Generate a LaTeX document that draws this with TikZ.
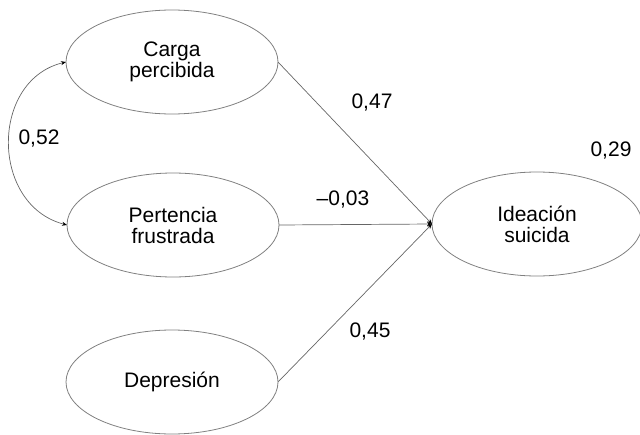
\documentclass[tikz,border=0pt]{standalone}
\usepackage{fontspec}
\setmainfont{Liberation Sans}
\usetikzlibrary{shapes.geometric,arrows.meta}

\begin{document}
\begin{tikzpicture}[x=1pt,y=-1pt,
  every node/.style={font=\fontsize{21}{21}\selectfont, outer sep=0pt},
  latent/.style={ellipse, draw=black!50, line width=0.8pt, minimum width=212pt, minimum height=104pt, inner sep=0pt, align=center},
  path/.style={draw=black!60, line width=0.7pt, -{Stealth[length=5pt,width=4pt,black]}}]
\useasboundingbox (0,0) rectangle (640,434);

\node[latent] (carga) at (172,62) {Carga\\percibida};
\node[latent] (pertenencia) at (173,225) {Pertencia\\frustrada};
\node[latent] (depresion) at (172,382) {Depresi\'on};
\node[latent, minimum width=210pt] (ideacion) at (537,224) {Ideaci\'on\\suicida};

\node (b1) at (372,103) {0,47};
\node (b2) at (343,200) {\textendash0,03};
\node (b3) at (370,332) {0,45};
\node (r2) at (611,151) {0,29};
\node (cov) at (39,139) {0,52};

\draw[path] (carga.east) -- (ideacion.west);
\draw[path] (pertenencia.east) -- (ideacion.west);
\draw[path] (depresion.east) -- (ideacion.west);
\draw[draw=black!60, line width=0.7pt, {Stealth[length=5pt,width=4pt,black]}-{Stealth[length=5pt,width=4pt,black]}]
  (carga.west) .. controls (-10,80) and (-10,205) .. (pertenencia.west);
\end{tikzpicture}
\end{document}
